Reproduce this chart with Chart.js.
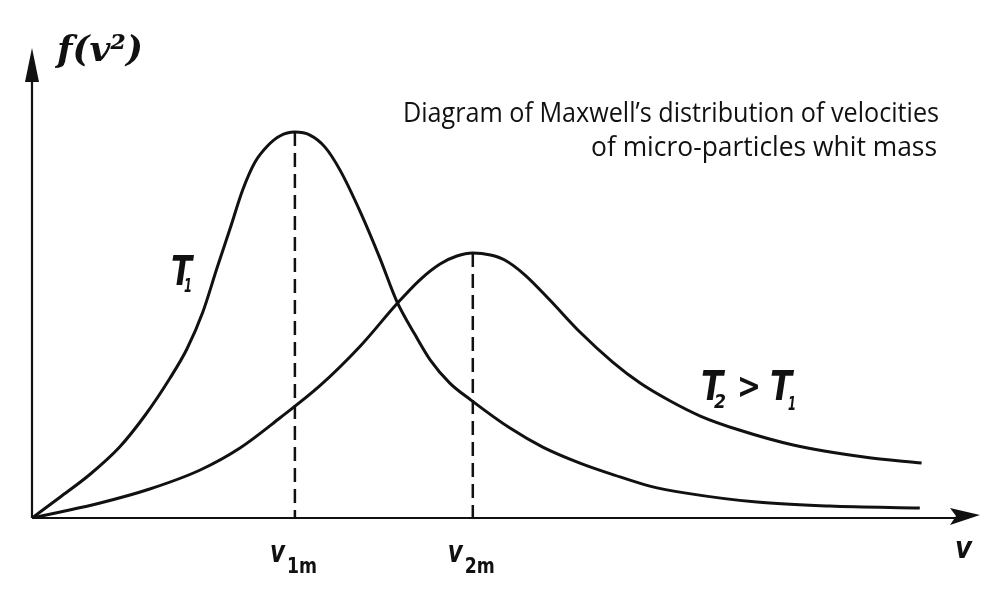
<!DOCTYPE html>
<html>
<head>
<meta charset="utf-8">
<script src="https://cdn.jsdelivr.net/npm/chart.js@4/dist/chart.umd.min.js"></script>
<style>
  html, body { margin: 0; padding: 0; background: #fff; }
  #wrap { width: 1003px; height: 591px; }
</style>
</head>
<body>
<div id="wrap"><canvas id="c" width="1003" height="591"></canvas></div>
<script>
// ---- data (v in arbitrary units, f in arbitrary units, T1 peak = 100) ----
const vT1 = [0, 0.32, 0.66, 0.99, 1.28, 1.56, 1.75, 1.93, 2.09, 2.24, 2.38, 2.52, 2.66, 2.80, 2.97,
             3.14, 3.31, 3.48, 3.71, 3.93, 4.12, 4.33, 4.50, 4.72, 4.96, 5.40, 5.77, 6.19, 6.58, 6.98, 7.39, 8.19, 9.01, 10.03];
const fT1 = [0, 5.44, 11.40, 18.40, 26.69, 36.28, 43.79, 53.38, 64.78, 75.15, 85.00, 92.25, 96.40, 98.99, 100,
             99.22, 96.11, 90.15, 79.27, 67.35, 56.21, 47.40, 40.92, 34.96, 30.55, 23.30, 18.38, 14.23, 11.12, 8.27, 6.45, 4.12, 3.08, 2.56];
const vT2 = [0, 0.32, 0.77, 1.33, 1.90, 2.35, 2.80, 3.25, 3.71, 4.12, 4.38, 4.61, 4.80, 4.98, 5.18, 5.34,
             5.57, 5.85, 6.19, 6.56, 6.87, 7.19, 7.55, 7.99, 8.60, 9.40, 10.05];
const fT2 = [0, 1.55, 3.89, 7.51, 12.44, 18.14, 25.91, 34.21, 44.57, 55.45, 61.67, 65.82, 67.89, 68.67, 68.15, 66.86,
             62.97, 56.49, 48.20, 40.42, 34.98, 30.58, 26.43, 22.80, 18.92, 15.81, 14.25];
const peakV = [2.97, 4.98];
const peakF = [100, 68.67];
const peakLabels = [["v", "1m"], ["v", "2m"]];
const titleLines = ["Diagram of Maxwell\u2019s distribution of velocities", "of micro-particles whit mass"];
const axisLabelY = "f(v\u00B2)";
const axisLabelX = "v";

const INK = '#111';
const pts = (xs, ys) => xs.map((x, i) => ({ x: x, y: ys[i] }));

function fitText(ctx, text, x, y, width, font, align) {
  ctx.save();
  ctx.font = font;
  const w = ctx.measureText(text).width;
  const s = width / w;
  const left = align === 'right' ? x - width : x;
  ctx.translate(left, y);
  ctx.scale(s, 1);
  ctx.textAlign = 'left';
  ctx.textBaseline = 'alphabetic';
  ctx.fillText(text, 0, 0);
  ctx.restore();
}

const axesPlugin = {
  id: 'axesArrows',
  beforeDatasetsDraw(chart) {
    const ctx = chart.ctx;
    const xs = chart.scales.x, ys = chart.scales.y;
    const x0 = xs.getPixelForValue(0), y0 = ys.getPixelForValue(0);
    const xEnd = xs.right, yEnd = ys.top;
    ctx.save();
    ctx.strokeStyle = INK; ctx.fillStyle = INK;
    ctx.lineWidth = 2.2;
    ctx.beginPath();
    ctx.moveTo(x0, y0); ctx.lineTo(x0, yEnd + 20);
    ctx.moveTo(x0, y0); ctx.lineTo(xEnd - 20, y0);
    ctx.stroke();
    // y arrow
    ctx.beginPath();
    ctx.moveTo(x0, yEnd);
    ctx.lineTo(x0 - 7, yEnd + 34);
    ctx.lineTo(x0 + 7, yEnd + 34);
    ctx.closePath(); ctx.fill();
    // x arrow
    ctx.beginPath();
    ctx.moveTo(xEnd, y0 - 3);
    ctx.lineTo(xEnd - 30, y0 - 10);
    ctx.lineTo(xEnd - 24, y0 - 2);
    ctx.lineTo(xEnd - 30, y0 + 7);
    ctx.closePath(); ctx.fill();
    ctx.restore();
  },
  afterDraw(chart) {
    const ctx = chart.ctx;
    const xs = chart.scales.x;
    ctx.save();
    ctx.fillStyle = INK;
    // title
    fitText(ctx, titleLines[0], 939, 122, 536, '28px "Open Sans"', 'right');
    fitText(ctx, titleLines[1], 937, 156, 346, '28px "Open Sans"', 'right');
    // f(v^2)
    fitText(ctx, axisLabelY, 57, 61, 86, 'italic bold 36px "DejaVu Serif"', 'left');
    // T1
    const hand = (size) => 'italic bold ' + size + 'px "DejaVu Sans"';
    fitText(ctx, 'T', 171, 285, 21, hand(40), 'left');
    fitText(ctx, '1', 184, 292, 8, hand(20), 'left');
    // T2 > T1
    fitText(ctx, 'T', 701, 400, 22, hand(40), 'left');
    fitText(ctx, '2', 714, 408, 12, hand(20), 'left');
    fitText(ctx, '>', 737, 398, 24, 'bold 36px "DejaVu Sans"', 'left');
    fitText(ctx, 'T', 770, 400, 22, hand(40), 'left');
    fitText(ctx, '1', 788, 410, 8, hand(20), 'left');
    // v1m, v2m
    peakV.forEach((v, i) => {
      const px = xs.getPixelForValue(v);
      fitText(ctx, peakLabels[i][0], px - 25, 562, 15, hand(30), 'left');
      fitText(ctx, peakLabels[i][1], px - 8, 573, 30, 'bold 22px "DejaVu Sans"', 'left');
    });
    // v at x-axis end
    fitText(ctx, axisLabelX, 955, 558, 17, hand(30), 'left');
    ctx.restore();
  }
};

const curveStyle = {
  borderColor: INK, borderWidth: 3, pointRadius: 0, fill: false,
  cubicInterpolationMode: 'monotone'
};
const dashStyle = {
  borderColor: INK, borderWidth: 2.5, pointRadius: 0, fill: false,
  borderDash: [14, 7], tension: 0
};

new Chart(document.getElementById('c'), {
  type: 'line',
  data: {
    datasets: [
      Object.assign({ label: 'T1', data: pts(vT1, fT1) }, curveStyle),
      Object.assign({ label: 'T2', data: pts(vT2, fT2) }, curveStyle),
      Object.assign({ label: 'v1m', data: pts([peakV[0], peakV[0]], [peakF[0], 0]) }, dashStyle),
      Object.assign({ label: 'v2m', data: pts([peakV[1], peakV[1]], [peakF[1], 0]) }, dashStyle)
    ]
  },
  options: {
    responsive: false,
    animation: false,
    layout: { padding: { left: 32, right: 23, top: 48, bottom: 73 } },
    plugins: { legend: { display: false }, tooltip: { enabled: false }, title: { display: false } },
    scales: {
      x: { type: 'linear', min: 0, max: 10.71, display: false },
      y: { type: 'linear', min: 0, max: 121.8, display: false }
    }
  },
  plugins: [axesPlugin]
});
</script>
</body>
</html>
